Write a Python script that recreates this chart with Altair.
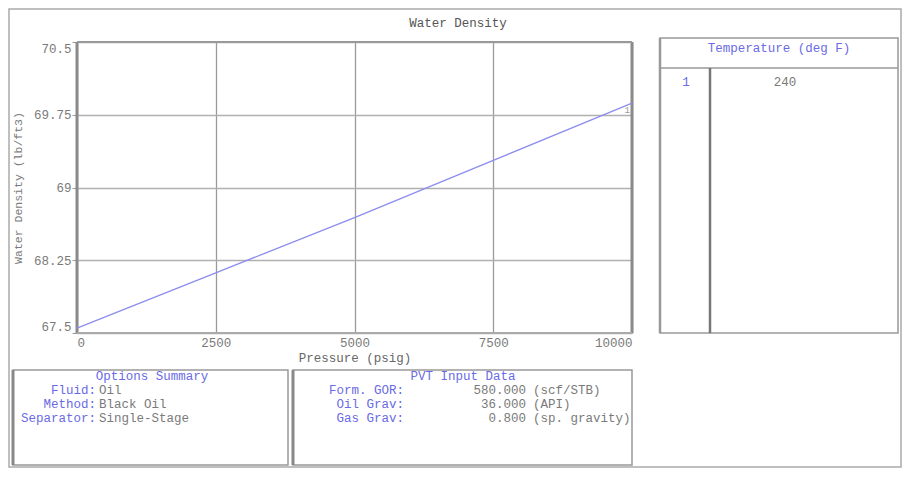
import altair as alt
import pandas as pd

# ---- data ----
pressure = [0, 2500, 5000, 7500, 10000]
density = [67.55, 68.12, 68.69, 69.28, 69.87]
x_ticks = [0, 2500, 5000, 7500, 10000]
y_ticks = [67.5, 68.25, 69, 69.75, 70.5]
series_label = ["1"]

temp_index = ["1"]
temp_values = ["240"]
temp_header = "Temperature (deg F)"

option_labels = ["Fluid:", "Method:", "Separator:"]
option_values = ["Oil", "Black Oil", "Single-Stage"]

pvt_labels = ["Form. GOR:", "Oil Grav:", "Gas Grav:"]
pvt_values = ["580.000", "36.000", "0.800"]
pvt_units = ["(scf/STB)", "(API)", "(sp. gravity)"]

FONT = "Liberation Mono"
GRAY = "#7a7a7a"
BLUE = "#6a6ae6"
FS = 12.5

df = pd.DataFrame({"p": pressure, "d": density})
one = alt.Data(values=[{"k": 1}])

W, H = 555, 291

xenc = alt.X("p:Q", scale=alt.Scale(domain=[0, 10000], nice=False),
             axis=alt.Axis(values=x_ticks, format="d", title="Pressure (psig)",
                           tickSize=0, labelPadding=3, titlePadding=3,
                           grid=True, gridColor="#9a9a9a", gridWidth=1.3,
                           domain=False, labelFont=FONT, labelFontSize=FS,
                           labelColor=GRAY, titleFont=FONT, titleFontSize=FS,
                           titleFontWeight="normal", titleColor="#666"))
yenc = alt.Y("d:Q", scale=alt.Scale(domain=[67.5, 70.5], nice=False, zero=False),
             axis=alt.Axis(values=y_ticks, labelExpr="toString(datum.value)",
                           title="Water Density (lb/ft3)",
                           tickSize=5, tickColor="#999", labelPadding=1, labelFlush=True,
                           titlePadding=10, grid=True, gridColor="#b0b0b0", gridWidth=1.3,
                           domain=False, labelFont=FONT, labelFontSize=FS,
                           labelColor=GRAY, titleFont=FONT, titleFontSize=FS - 1,
                           titleFontWeight="normal", titleColor=GRAY))

line = alt.Chart(df).mark_line(color="#8c8cf0", strokeWidth=1.3).encode(x=xenc, y=yenc)

end_lbl = alt.Chart(pd.DataFrame({"p": pressure[-1:], "d": density[-1:], "t": series_label})).mark_text(
    font=FONT, fontSize=9, color="#999", align="right", dx=-2, dy=7).encode(
    x=alt.X("p:Q"), y=alt.Y("d:Q"), text="t:N")


def box(x1, y1, x2, y2, color="#999", sw=1.5):
    return alt.Chart(one).mark_rect(fillOpacity=0, stroke=color, strokeWidth=sw).encode(
        x=alt.value(x1), x2=alt.value(x2), y=alt.value(y1), y2=alt.value(y2))


def rule(x1, y1, x2, y2, color="#999", sw=1.5):
    return alt.Chart(one).mark_rule(color=color, strokeWidth=sw).encode(
        x=alt.value(x1), x2=alt.value(x2), y=alt.value(y1), y2=alt.value(y2))


def txt(s, x, y, color=GRAY, align="left", size=FS):
    return alt.Chart(one).mark_text(text=s, align=align, baseline="middle", font=FONT,
                                    fontSize=size, color=color).encode(
        x=alt.value(x), y=alt.value(y))


layers = []
# outer frame
layers.append(box(-68, -33, 824, 425, color="#aaa", sw=1.5))
# plot borders
layers.append(rule(0, 0, 0, H, color="#8a8a8a", sw=3))
layers.append(rule(W, 0, W, H, color="#8a8a8a", sw=3))
layers.append(rule(0, 0, W, 0, color="#999", sw=2))
layers.append(rule(0, H, W, H, color="#aaa", sw=2))
layers.append(line)
layers.append(end_lbl)
# title
layers.append(txt("Water Density", 381, -19, color="#555", align="center"))

# temperature table
tx1, ty1, tx2, ty2 = 583, -4, 821, H
layers.append(box(tx1, ty1, tx2, ty2, color="#999", sw=1.5))
layers.append(rule(tx1, ty1, tx1, ty2, color="#999", sw=2.5))
layers.append(rule(tx1, 26, tx2, 26, color="#999", sw=1.5))
layers.append(rule(633, 26, 633, ty2, color="#777", sw=2.5))
layers.append(txt(temp_header, (tx1 + tx2) / 2, 6, color=BLUE, align="center"))
for i, (a, b) in enumerate(zip(temp_index, temp_values)):
    layers.append(txt(a, 609, 40 + i * 14, color=BLUE, align="center"))
    layers.append(txt(b, 708, 40 + i * 14, color=GRAY, align="center"))

# options summary
ox1, oy1, ox2, oy2 = -64, 328, 211, 423
layers.append(box(ox1, oy1, ox2, oy2, color="#999", sw=1.5))
layers.append(rule(ox1, oy1, ox1, oy2, color="#888", sw=3))
layers.append(txt("Options Summary", 75, 334, color=BLUE, align="center"))
for i, (a, b) in enumerate(zip(option_labels, option_values)):
    yy = 348 + i * 14
    layers.append(txt(a, 19, yy, color=BLUE, align="right"))
    layers.append(txt(b, 22, yy, color=GRAY, align="left"))

# PVT input data
px1, py1, px2, py2 = 216, 328, 555, 423
layers.append(box(px1, py1, px2, py2, color="#999", sw=1.5))
layers.append(rule(px1, py1, px1, py2, color="#888", sw=3))
layers.append(txt("PVT Input Data", 386, 334, color=BLUE, align="center"))
for i, (a, b, c) in enumerate(zip(pvt_labels, pvt_values, pvt_units)):
    yy = 348 + i * 14
    layers.append(txt(a, 327, yy, color=BLUE, align="right"))
    layers.append(txt(b, 449, yy, color=GRAY, align="right"))
    layers.append(txt(c, 456, yy, color=GRAY, align="left"))

chart = alt.layer(*layers).properties(
    width=W, height=H,
    padding={"left": 69, "top": 34, "right": 270, "bottom": 135},
    autosize=alt.AutoSizeParams(type="none"),
).configure_view(stroke=None).configure(background="white")

chart.save("out.html", embed_options={"renderer": "svg", "actions": False})
